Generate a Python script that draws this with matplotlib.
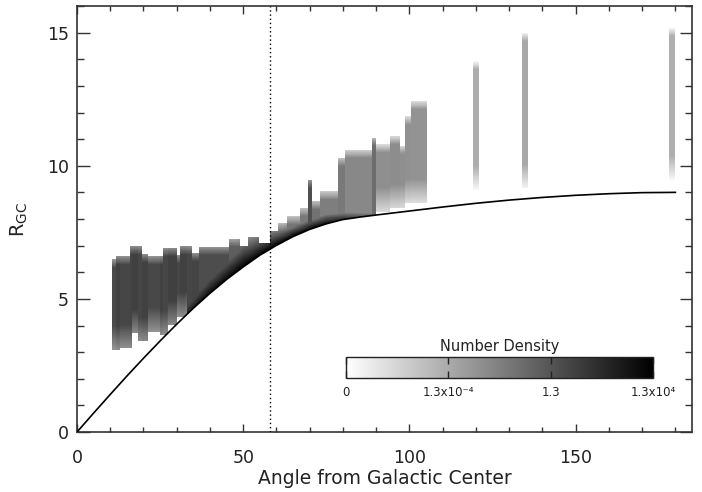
import numpy as np
import matplotlib
matplotlib.use("Agg")
import matplotlib.pyplot as plt
from matplotlib.colors import LogNorm
from matplotlib.ticker import MultipleLocator

# ---------------- data ----------------
# lower-envelope curve (angle, R_GC)
theta_curve = [0, 5, 10, 15, 20, 25, 30, 35, 40, 45, 50, 55, 60, 65, 70, 75, 80,
               85, 90, 100, 110, 120, 130, 140, 150, 160, 170, 180]
r_curve = [0.00, 0.71, 1.41, 2.10, 2.77, 3.42, 4.05, 4.65, 5.21, 5.73, 6.20, 6.64,
           7.01, 7.34, 7.61, 7.82, 7.98, 8.07, 8.15, 8.30, 8.45, 8.59, 8.71, 8.81,
           8.89, 8.95, 8.99, 9.00]

# density strips: angle range, top / bottom R (0 = down to the curve), log10 density
seg_lo = [10.4, 11.9, 12.9, 16.0, 16.5, 18.5, 19.7, 21.5, 25.0, 26.0,
          27.5, 30.0, 31.0, 33.0, 34.7, 36.7, 45.6, 49.1, 51.4, 54.8,
          58.1, 60.6, 63.2, 67.2, 69.5, 70.7, 73.2, 78.7, 80.7, 88.8,
          90.0, 94.3, 97.3, 98.9, 100.7, 119.2, 133.9, 178.3]
seg_hi = [11.9, 12.9, 16.0, 16.5, 18.5, 19.7, 21.5, 25.0, 26.0, 27.5,
          30.0, 31.0, 33.0, 34.7, 36.7, 45.6, 49.1, 51.4, 54.8, 58.1,
          60.6, 63.2, 67.2, 69.5, 70.7, 73.2, 78.7, 80.7, 88.8, 90.0,
          94.3, 97.3, 98.9, 100.7, 105.3, 120.9, 135.9, 180.1]
seg_top = [6.47, 6.59, 6.59, 6.97, 6.97, 6.97, 6.68, 6.59, 6.59, 6.90,
           6.90, 6.65, 6.97, 6.97, 6.72, 6.95, 7.26, 7.00, 7.31, 7.09,
           7.55, 7.85, 8.09, 8.41, 9.47, 8.66, 9.03, 10.29, 10.60, 11.05,
           10.79, 11.10, 10.75, 11.85, 12.42, 13.92, 14.99, 15.18]
seg_bot = [3.08, 3.08, 3.15, 3.15, 3.71, 3.40, 3.40, 3.77, 3.65, 3.65,
           4.02, 4.33, 4.33, 0, 0, 0, 0, 0, 0, 0,
           0, 0, 0, 0, 0, 0, 0, 0, 0, 0,
           8.28, 8.41, 8.41, 8.60, 8.60, 9.10, 9.16, 9.47]
seg_logd = [0.6, 1.0, 0.8, 0.9, 1.1, 0.8, 1.0, 0.7, 1.0, 0.8,
            1.1, 0.8, 1.0, 0.8, 0.9, 0.5, -0.3, -0.3, -0.5, -0.7,
            -1.2, -1.3, -1.4, -1.6, 0.4, -1.3, -1.8, -1.6, -2.3, -1.0,
            -2.6, -2.5, -2.6, -2.7, -2.8, -4.0, -3.8, -4.1]

# density ridge hugging the curve (peak log10 density, decades lost per unit R)
ridge_theta = [33, 40, 50, 58, 65, 75, 80, 86, 90]
ridge_logd = [2.5, 3.5, 4.0, 4.0, 4.0, 3.5, 2.0, 0.0, -1.0]
ridge_decay = [6, 6, 6, 9, 15, 15, 15, 15, 15]

cbar_ticks = [1.3e-8, 1.3e-4, 1.3, 1.3e4]
cbar_labels = ["0", "1.3x10\u207b\u2074", "1.3", "1.3x10\u2074"]

# ---------------- figure ----------------
fig = plt.figure(figsize=(7.02, 4.92), dpi=100)
ax = fig.add_axes([77 / 702, 60 / 492, 615 / 702, 426 / 492])

xs = np.arange(0, 185, 0.2) + 0.1
ys = np.arange(0, 16, 0.02) + 0.01
Z = np.full((len(ys), len(xs)), np.nan)
curve_at = np.interp(xs, theta_curve, r_curve)
ridge_at = np.interp(xs, ridge_theta, ridge_logd)
decay_at = np.interp(xs, ridge_theta, ridge_decay)
Y = ys[:, None]
for lo, hi, top, bot, lv in zip(seg_lo, seg_hi, seg_top, seg_bot, seg_logd):
    cols = (xs >= lo) & (xs < hi)
    if not cols.any():
        continue
    c = curve_at[cols][None, :]
    lower = np.maximum(bot, c)
    inside = (Y >= lower) & (Y <= top)
    fade_top = np.clip((top - Y) / 0.3, 0, 1)
    if bot > 0:
        fade_bot = np.clip((Y - lower) / 0.9, 0, 1)
    else:
        fade_bot = np.ones_like(fade_top)
    fade = np.minimum(fade_top, fade_bot)
    val = lv - 3.5 * (1 - fade)
    if bot == 0:
        rid = ridge_at[cols][None, :] - decay_at[cols][None, :] * (Y - c)
        val = np.maximum(val, rid)
    val = np.broadcast_to(val, inside.shape)
    sub = Z[:, cols]
    sub[inside] = val[inside]
    Z[:, cols] = sub

dens = np.ma.masked_invalid(10.0 ** Z)
cmap = plt.get_cmap("gray_r").copy()
cmap.set_bad("white", alpha=0)
norm = LogNorm(vmin=1.3e-8, vmax=1.3e4)
im = ax.imshow(dens, extent=[0, 185, 0, 16], origin="lower", aspect="auto",
               cmap=cmap, norm=norm, interpolation="nearest", zorder=1)

ax.plot(theta_curve, r_curve, color="k", lw=1.2, zorder=3)
ax.axvline(58, color="k", lw=1.0, ls=(0, (1, 2)), zorder=3)

ax.set_xlim(0, 185)
ax.set_ylim(0, 16)
ax.set_xticks([0, 50, 100, 150])
ax.set_yticks([0, 5, 10, 15])
ax.xaxis.set_minor_locator(MultipleLocator(10))
ax.yaxis.set_minor_locator(MultipleLocator(1))
ax.tick_params(which="both", direction="in", top=True, right=True,
               colors="#333333", labelcolor="#222222", width=1)
ax.tick_params(axis="x", which="major", length=5.8, pad=12, labelsize=12.5)
ax.tick_params(axis="x", which="minor", length=3.3)
ax.tick_params(axis="y", which="major", length=9, pad=6, labelsize=12.5)
ax.tick_params(axis="y", which="minor", length=4.7)
for s in ax.spines.values():
    s.set_color("#333333")
    s.set_linewidth(1.2)

ax.set_xlabel("Angle from Galactic Center", fontsize=13.5, color="#222222", labelpad=2)
ax.set_ylabel(r"R$_{\mathregular{GC}}$", fontsize=14, color="#222222", labelpad=12)

# colorbar inset
cax = fig.add_axes([346 / 702, 1 - 378 / 492, 307 / 702, 21 / 492])
cb = fig.colorbar(im, cax=cax, orientation="horizontal")
cb.set_ticks(cbar_ticks)
cb.set_ticklabels(cbar_labels)
cax.minorticks_off()
cax.tick_params(direction="in", top=True, bottom=True, length=5, width=1,
                labelsize=8.5, pad=6, colors="#222222")
cb.outline.set_linewidth(1)
cb.outline.set_edgecolor("#222222")
cax.set_title("Number Density", fontsize=10.5, pad=4, color="#222222")

fig.savefig("out.png", dpi=100, facecolor="white")
